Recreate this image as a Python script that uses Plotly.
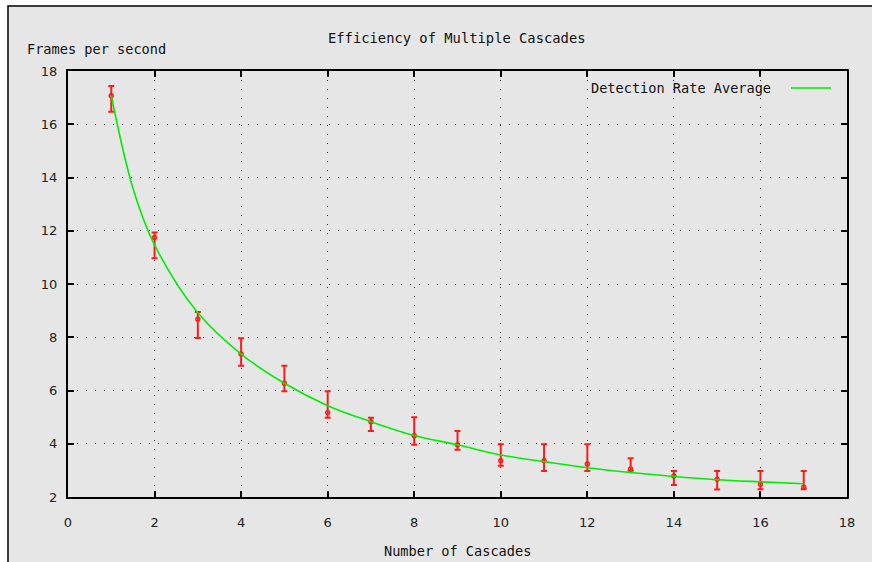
import plotly.graph_objects as go

# ---- data ----
cascades = list(range(1, 18))
fps_mean = [17.07, 11.75, 8.68, 7.37, 6.27, 5.17, 4.83, 4.30, 3.96, 3.36, 3.36, 3.24, 3.05, 2.79, 2.67, 2.48, 2.37]
fps_high = [17.44, 11.93, 8.95, 7.96, 6.93, 5.97, 4.98, 5.00, 4.48, 3.98, 3.98, 3.98, 3.46, 2.98, 2.98, 2.98, 2.98]
fps_low = [16.47, 10.97, 7.97, 6.93, 5.97, 4.98, 4.48, 3.96, 3.77, 3.17, 2.98, 2.98, 2.99, 2.45, 2.28, 2.29, 2.29]

curve_x = [1, 1.5, 2, 3, 4, 5, 6, 7, 8, 9, 10, 11, 12, 13, 14, 15, 16, 17]
curve_y = [17.07, 13.6, 11.47, 8.92, 7.37, 6.27, 5.43, 4.83, 4.31, 3.96, 3.58, 3.33, 3.10, 2.92, 2.77, 2.65, 2.57, 2.50]

x_ticks = list(range(0, 19, 2))
y_ticks = list(range(2, 19, 2))

title_text = "Efficiency of Multiple Cascades"
y_title = "Frames per second"
x_title = "Number of Cascades"
legend_text = "Detection Rate Average"

# ---- styling ----
W, H = 872, 562
L, R, T, B = 68, 25, 71, 65
pw, ph = W - L - R, H - T - B
MONO = "DejaVu Sans Mono"
SANS = "DejaVu Sans"
BG = "#e6e6e6"


def px(x):
    return (x - L) / pw


def py(y):
    return (H - B - y) / ph


err_plus = [h - m for h, m in zip(fps_high, fps_mean)]
err_minus = [m - l for m, l in zip(fps_mean, fps_low)]

fig = go.Figure()
fig.add_trace(go.Scatter(
    x=cascades, y=fps_mean, mode="markers",
    marker=dict(symbol="circle-open", size=4, color="#ff1a1a", line=dict(width=1.4, color="#ff1a1a")),
    error_y=dict(type="data", symmetric=False, array=err_plus, arrayminus=err_minus,
                 color="#ff1a1a", thickness=2, width=3),
    showlegend=False, cliponaxis=False,
))
fig.add_trace(go.Scatter(
    x=curve_x, y=curve_y, mode="lines",
    line=dict(color="#00ee00", width=1.6, shape="spline", smoothing=1.0),
    showlegend=False,
))

axis_common = dict(
    showline=True, linecolor="black", linewidth=2, mirror="ticks",
    ticks="inside", ticklen=6, tickwidth=2, tickcolor="black",
    showgrid=True, gridcolor="#333333", gridwidth=1, griddash="1px,8px",
    zeroline=False, tickfont=dict(family=SANS, size=13, color="#222"),
)

fig.update_xaxes(range=[0, 18], tickvals=x_ticks, ticklabelstandoff=12, **axis_common)
fig.update_yaxes(range=[2, 18], tickvals=y_ticks, ticklabelstandoff=6, **axis_common)

shapes = [
    # outer frame
    dict(type="rect", xref="paper", yref="paper", layer="below",
         x0=px(8), x1=px(W + 20), y0=py(H + 20), y1=py(6),
         fillcolor=BG, line=dict(color="black", width=1.5)),
    # legend sample line
    dict(type="line", xref="paper", yref="paper",
         x0=px(791), x1=px(831), y0=py(88), y1=py(88),
         line=dict(color="#00ee00", width=1.6)),
]

annotations = [
    dict(text=title_text, xref="paper", yref="paper", x=px(457), y=py(38),
         xanchor="center", yanchor="middle", showarrow=False,
         font=dict(family=MONO, size=13.8, color="#111")),
    dict(text=y_title, xref="paper", yref="paper", x=px(25), y=py(49),
         xanchor="left", yanchor="middle", showarrow=False,
         font=dict(family=MONO, size=13.6, color="#111")),
    dict(text=x_title, xref="paper", yref="paper", x=px(457), y=py(551),
         xanchor="center", yanchor="middle", showarrow=False,
         font=dict(family=MONO, size=13.6, color="#111")),
    dict(text=legend_text, xref="paper", yref="paper", x=px(773), y=py(88),
         xanchor="right", yanchor="middle", showarrow=False,
         font=dict(family=MONO, size=13.6, color="#111")),
]

fig.update_layout(
    width=W, height=H,
    margin=dict(l=L, r=R, t=T, b=B),
    paper_bgcolor="white", plot_bgcolor="rgba(0,0,0,0)",
    shapes=shapes, annotations=annotations,
    showlegend=False,
)

fig.write_html(
    "out.html",
    config={"displayModeBar": False},
    post_script="document.body.style.margin='0px';document.body.style.overflow='hidden';",
)
